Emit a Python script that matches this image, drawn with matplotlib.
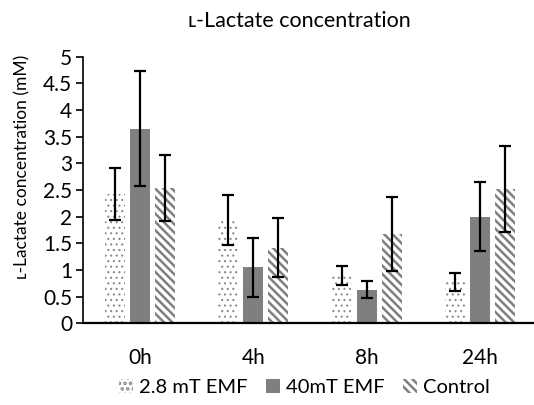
import numpy as np
import matplotlib
matplotlib.use("Agg")
import matplotlib.pyplot as plt

plt.rcParams['font.family'] = ['Lato', 'DejaVu Sans']

groups = ["0h", "4h", "8h", "24h"]
series = ["2.8 mT EMF", "40mT EMF", "Control"]

emf_28 = [2.42, 1.93, 0.90, 0.78]
emf_28_err = [0.49, 0.47, 0.18, 0.17]
emf_40 = [3.65, 1.05, 0.63, 2.00]
emf_40_err = [1.08, 0.55, 0.16, 0.65]
control = [2.54, 1.42, 1.67, 2.52]
control_err = [0.62, 0.56, 0.69, 0.80]

x = np.arange(len(groups))
w = 0.176
step = 0.22

fig = plt.figure(figsize=(5.34, 4.05), dpi=100)
ax = fig.add_axes([83.3 / 534, 81.7 / 405, 453.3 / 534, 266.6 / 405])

err_kw = dict(ecolor="black", elinewidth=1.6, capsize=4.5, capthick=1.6)

plt.rcParams['hatch.linewidth'] = 0.8
ax.bar(x - step, emf_28, w, yerr=emf_28_err, color="white", edgecolor="#8c8c8c",
       linewidth=0, hatch="...", error_kw=err_kw, label=series[0])
ax.bar(x, emf_40, w, yerr=emf_40_err, color="#7f7f7f", linewidth=0,
       error_kw=err_kw, label=series[1])
plt.rcParams['hatch.linewidth'] = 1.8
ax.bar(x + step, control, w, yerr=control_err, color="white", edgecolor="#7f7f7f",
       linewidth=0, hatch="\\\\\\\\", error_kw=err_kw, label=series[2])

ax.set_xlim(-0.5, 3.5)
ax.set_ylim(0, 5)
ax.set_yticks(np.arange(0, 5.01, 0.5))
ax.set_yticklabels(["0", "0.5", "1", "1.5", "2", "2.5", "3", "3.5", "4", "4.5", "5"])
ax.set_xticks(x)
ax.set_xticklabels(groups)
ax.tick_params(axis="x", length=0, labelsize=15, pad=18)
ax.tick_params(axis="y", length=5, width=1.2, labelsize=15, pad=3, direction="out")

for s in ["top", "right"]:
    ax.spines[s].set_visible(False)
ax.spines["left"].set_linewidth(1.2)
ax.spines["bottom"].set_linewidth(1.6)

# y label placed by hand, Excel puts it a bit above the axis centre
fig.text(22 / 534, (405 - 166.5) / 405, "ʟ-Lactate concentration (mM)",
         rotation=90, ha="center", va="center", fontsize=12.5)
fig.text(0.561, 0.948, "ʟ-Lactate concentration", ha="center", va="center", fontsize=15.5)

fig.legend(loc="center", bbox_to_anchor=(0.57, 0.044), ncol=3, frameon=False,
           fontsize=14.5, handlelength=0.7, handleheight=0.7, handletextpad=0.3,
           columnspacing=0.9)

fig.savefig("out.png", dpi=100)
